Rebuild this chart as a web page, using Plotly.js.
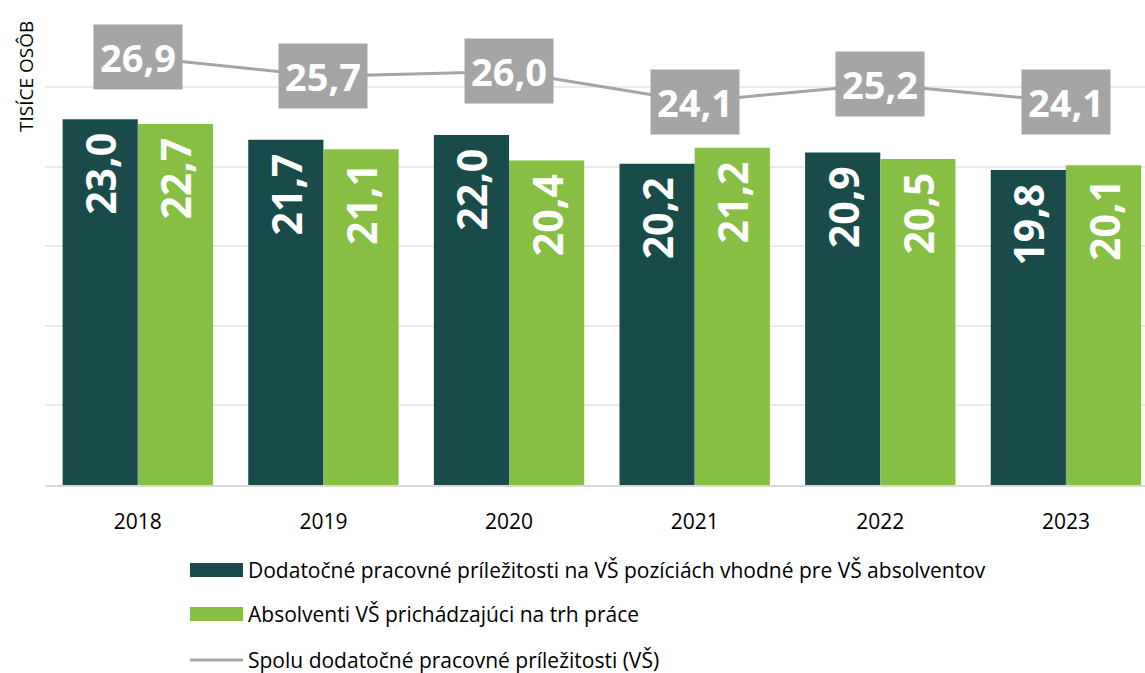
<!DOCTYPE html>
<html>
<head>
<meta charset="utf-8">
<script src="https://cdn.plot.ly/plotly-3.0.1.min.js"></script>
<style>
  html, body { margin: 0; padding: 0; background: #fff; }
  #chart { width: 1145px; height: 673px; }
</style>
</head>
<body>
<div id="chart"></div>
<script>
const years = ['2018', '2019', '2020', '2021', '2022', '2023']
const jobs = [23.0, 21.7, 22.0, 20.2, 20.9, 19.8]
const grads = [22.7, 21.1, 20.4, 21.2, 20.5, 20.1]
const total = [26.9, 25.7, 26.0, 24.1, 25.2, 24.1]
const names = [
    'Dodatočné pracovné príležitosti na VŠ pozíciách vhodné pre VŠ absolventov',
    'Absolventi VŠ prichádzajúci na trh práce',
    'Spolu dodatočné pracovné príležitosti (VŠ)'
]

const dark = '#184b4a'
const green = '#86bf43'
const gray = '#a5a5a5'
const font = '"Open Sans", "Noto Sans", sans-serif'

// plot area in pixels, used to place things outside of it
const M = { l: 45, r: 0, t: 7, b: 188 }
const PW = 1145 - M.l - M.r, PH = 673 - M.t - M.b
const px = x => (x - M.l) / PW
const py = y => (673 - M.b - y) / PH

const barText = {
    textposition: 'inside',
    insidetextanchor: 'end',
    textangle: -90,
    texttemplate: '<b>%{y:.1f}</b>\u00a0',
    insidetextfont: { family: font, size: 41, color: '#ffffff' },
    hoverinfo: 'skip',
    showlegend: false,
}

let data = [
    { type: 'bar', x: years, y: jobs, name: names[0], marker: { color: dark }, ...barText },
    { type: 'bar', x: years, y: grads, name: names[1], marker: { color: green }, ...barText },
    {
        type: 'scatter', mode: 'lines', x: years, y: total, name: names[2],
        line: { color: gray, width: 3 }, hoverinfo: 'skip', showlegend: false,
    },
]

// boxed labels on the total line (category index for x)
let annotations = total.map((v, i) => ({
    x: i, y: v, xref: 'x', yref: 'y',
    text: '<b>' + v.toFixed(1).replace('.', ',') + '</b>',
    showarrow: false,
    bgcolor: gray,
    borderpad: 6,
    font: { family: font, size: 38, color: '#ffffff' },
}))

annotations.push({
    x: px(26), y: py(77), xref: 'paper', yref: 'paper', xanchor: 'center', yanchor: 'middle',
    text: 'TISÍCE OSÔB', textangle: -90, showarrow: false,
    font: { family: font, size: 19, color: '#000000' },
})

// legend drawn by hand to get the wide Excel-like swatches
const legendY = [570, 614, 660]
let shapes = []
names.forEach((n, i) => {
    if (i < 2) {
        shapes.push({
            type: 'rect', xref: 'paper', yref: 'paper',
            x0: px(190), x1: px(243), y0: py(legendY[i] - 7), y1: py(legendY[i] + 7),
            fillcolor: i === 0 ? dark : green, line: { width: 0 },
        })
    } else {
        shapes.push({
            type: 'line', xref: 'paper', yref: 'paper',
            x0: px(190), x1: px(243), y0: py(legendY[i]), y1: py(legendY[i]),
            line: { color: gray, width: 3 },
        })
    }
    annotations.push({
        x: px(246), y: py(legendY[i]), xref: 'paper', yref: 'paper',
        xanchor: 'left', yanchor: 'middle', text: n, showarrow: false,
        font: { family: font, size: 21, color: '#000000' },
    })
})

const layout = {
    width: 1145,
    height: 673,
    margin: M,
    paper_bgcolor: '#ffffff',
    plot_bgcolor: '#ffffff',
    separators: ',.',
    barmode: 'group',
    bargap: 0.19,
    bargroupgap: 0,
    showlegend: false,
    xaxis: {
        type: 'category',
        range: [-0.5, 5.426],
        showline: true,
        linecolor: '#d9d9d9',
        linewidth: 2,
        ticks: '',
        ticklabelstandoff: 17,
        tickfont: { family: font, size: 21, color: '#000000' },
        fixedrange: true,
    },
    yaxis: {
        range: [0, 30.05],
        dtick: 5,
        showticklabels: false,
        gridcolor: '#ebebeb',
        gridwidth: 2,
        zeroline: false,
        fixedrange: true,
    },
    annotations: annotations,
    shapes: shapes,
}

Plotly.newPlot('chart', data, layout, { displayModeBar: false, staticPlot: true })
</script>
</body>
</html>
